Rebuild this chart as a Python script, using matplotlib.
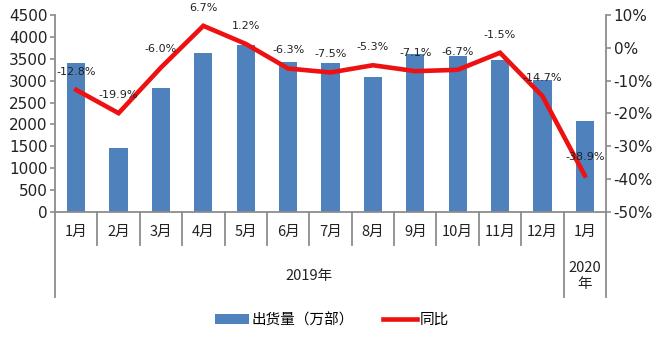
import matplotlib
matplotlib.use('Agg')
import matplotlib.pyplot as plt
from matplotlib.patches import Patch
from matplotlib.lines import Line2D
from matplotlib.ticker import FuncFormatter
import matplotlib.transforms as mtransforms

plt.rcParams['font.family'] = ['Noto Sans CJK SC', 'DejaVu Sans']

months = ['1月', '2月', '3月', '4月', '5月', '6月', '7月', '8月', '9月', '10月', '11月', '12月', '1月']
shipments = [3405, 1455, 2830, 3640, 3815, 3415, 3400, 3075, 3605, 3570, 3470, 3015, 2085]
yoy = [-12.8, -19.9, -6.0, 6.7, 1.2, -6.3, -7.5, -5.3, -7.1, -6.7, -1.5, -14.7, -38.9]
years = ['2019年', '2020\n年']
year_spans = [(0, 11), (12, 12)]

bar_color = '#4F81BD'
line_color = '#EE1111'
spine_color = '#8C8C8C'

fig = plt.figure(figsize=(6.6, 3.42), dpi=100)
ax = fig.add_axes([55/660, 1 - 212/342, (606-55)/660, (212-15)/342])
ax2 = ax.twinx()

x = list(range(len(months)))
ax.bar(x, shipments, width=0.43, color=bar_color, zorder=2)
ax.set_xlim(-0.5, len(months) - 0.5)
ax.set_ylim(0, 4500)
ax.set_yticks(range(0, 4501, 500))
ax.set_xticks([])

ax2.plot(x, yoy, color=line_color, lw=3.3, solid_joinstyle='miter', zorder=3)
ax2.set_ylim(-50, 10)
ax2.set_yticks(range(-50, 11, 10))
ax2.yaxis.set_major_formatter(FuncFormatter(lambda v, p: f'{v:.0f}%'))

for xi, v in zip(x, yoy):
    ax2.annotate(f'{v:.1f}%', (xi, v), xytext=(0, 13), textcoords='offset points',
                 ha='center', va='center', fontsize=8, color='#222222',
                 family='DejaVu Sans')

for a in (ax, ax2):
    a.spines['top'].set_visible(False)
    for s in ('left', 'right', 'bottom'):
        a.spines[s].set_color(spine_color)
        a.spines[s].set_linewidth(1.3)
    a.tick_params(axis='y', length=3.5, width=1.2, color=spine_color,
                  labelsize=11, labelcolor='#222222', pad=2)
    for t in a.get_yticklabels():
        t.set_family('DejaVu Sans')
ax.spines['right'].set_visible(False)
ax2.spines['left'].set_visible(False)
ax2.spines['bottom'].set_visible(False)

# multi-level category axis
trans = mtransforms.blended_transform_factory(ax.transData, fig.transFigure)
y0 = 1 - 212/342
y_short = 1 - 245/342
y_long = 1 - 297/342
long_edges = [-0.5] + [e + 0.5 for _, e in year_spans]
for i in range(len(months) + 1):
    edge = i - 0.5
    yb = y_long if edge in long_edges else y_short
    fig.add_artist(Line2D([edge, edge], [y0, yb], transform=trans,
                          color=spine_color, lw=1.3))
for xi, m in zip(x, months):
    fig.text(xi, 1 - 232/342, m, transform=trans, ha='center', va='center',
             fontsize=10.5, color='#222222')
for label, (s, e) in zip(years, year_spans):
    fig.text((s + e) / 2, 1 - 276/342, label, transform=trans, ha='center',
             va='center', fontsize=10.5, color='#222222', linespacing=1.2)

handles = [Patch(facecolor=bar_color, label='出货量（万部）'),
           Line2D([0], [0], color=line_color, lw=3.3, label='同比')]
fig.legend(handles=handles, loc='center', bbox_to_anchor=(0.503, 1 - 320/342),
           ncol=2, frameon=False, fontsize=10.5, handlelength=2.3,
           handleheight=0.7, handletextpad=0.2, columnspacing=2.0)

fig.savefig('out.png', dpi=100)
